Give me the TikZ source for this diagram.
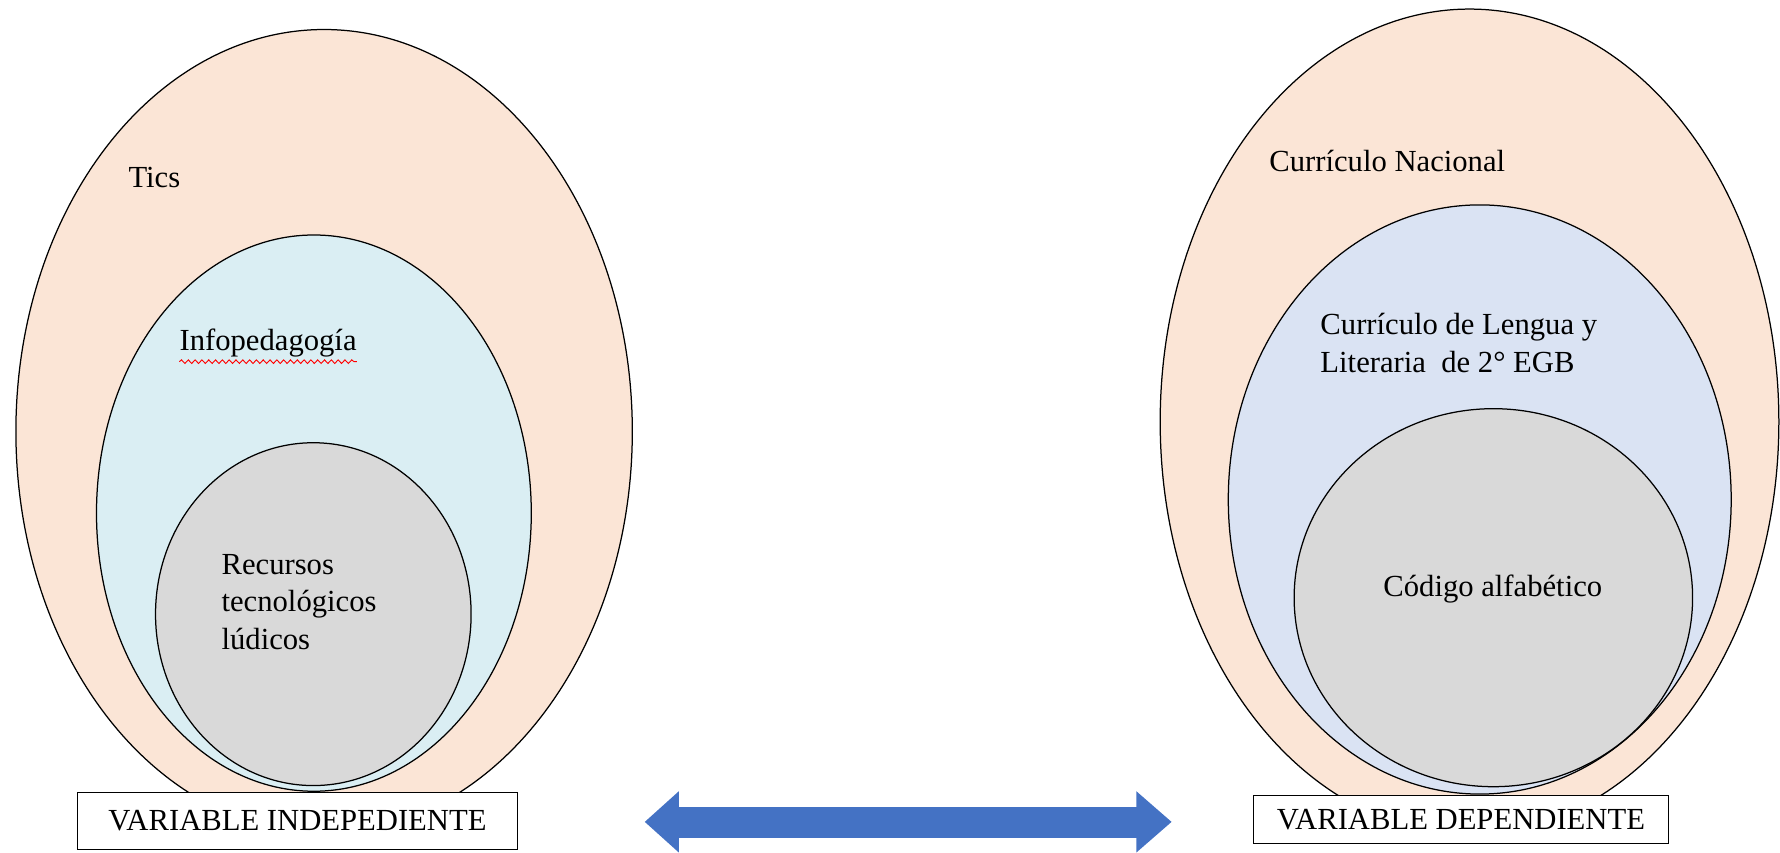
\documentclass[tikz,border=0pt]{standalone}
\usepackage{fontspec}
\setmainfont{Liberation Serif}
\usetikzlibrary{shapes.geometric,decorations.pathmorphing}
\definecolor{peach}{HTML}{FBE5D6}
\definecolor{aqua}{HTML}{DAEEF3}
\definecolor{paleblue}{HTML}{DAE3F3}
\definecolor{greyfill}{HTML}{D9D9D9}
\definecolor{arrowblue}{HTML}{4472C4}
\tikzset{
  oval/.style={ellipse, draw=black, line width=1.1pt, inner sep=0pt},
  label/.style={font=\fontsize{27}{33}\selectfont, inner sep=0pt, align=left},
  varbox/.style={draw=black, line width=1.1pt, fill=white, font=\fontsize{27}{33}\selectfont, inner sep=0pt}
}
\begin{document}
\begin{tikzpicture}[x=1pt,y=-1pt]
\useasboundingbox (0,0) rectangle (1568,751);
\clip (0,0) rectangle (1568,751);
% left group
\node[oval, fill=peach, minimum width=543pt, minimum height=708pt] (tics) at (285.5,380) {};
\node[oval, fill=aqua, minimum width=383pt, minimum height=490pt] (info) at (276.5,452) {};
\node[oval, fill=greyfill, minimum width=278pt, minimum height=302pt] (recursos) at (276,541) {};
\node[label, anchor=west] (ticsT) at (113,156) {Tics};
\node[label, anchor=west] (infoT) at (158,302) {Infopedagogía};
\draw[red, line width=0.8pt, decorate, decoration={snake, amplitude=1.6pt, segment length=6pt}]
  ([yshift=-10pt]infoT.base west) -- ([yshift=-10pt]infoT.base east);
\node[label, anchor=west] (recT) at (195,530) {Recursos\\tecnológicos\\lúdicos};
\node[varbox, minimum width=388pt, minimum height=50pt] (vi) at (262,723) {VARIABLE INDEPEDIENTE};
% right group
\node[oval, fill=peach, minimum width=545pt, minimum height=727pt] (cn) at (1294.5,371.5) {};
\node[oval, fill=paleblue, minimum width=443pt, minimum height=519pt] (cl) at (1303.5,440) {};
\node[oval, fill=greyfill, minimum width=351pt, minimum height=333pt] (ca) at (1315.5,526.5) {};
\node[label, anchor=west] (cnT) at (1118,142) {Currículo Nacional};
\node[label, anchor=west] (clT) at (1163,302) {Currículo de Lengua y\\Literaria\ \ de 2° EGB};
\node[label] (caT) at (1315,519) {Código alfabético};
\node[varbox, minimum width=366pt, minimum height=42pt] (vd) at (1287,722) {VARIABLE DEPENDIENTE};
% double arrow
\fill[arrowblue] (568,724) -- (598,697) -- (598,711) -- (1001,711) -- (1001,697) -- (1032,724)
  -- (1001,751) -- (1001,738) -- (598,738) -- (598,751) -- cycle;
\end{tikzpicture}
\end{document}
